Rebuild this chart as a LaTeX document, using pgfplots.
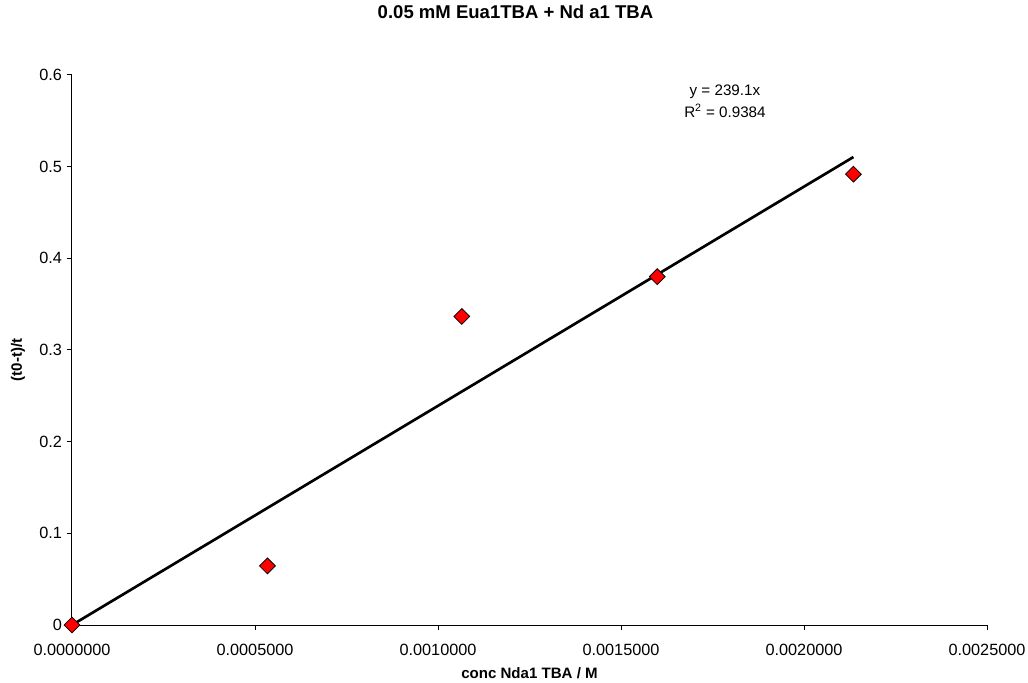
\documentclass[border=0pt]{standalone}
\usepackage{pgfplots}
\pgfplotsset{compat=1.18}
\usepackage{fontspec}
\setmainfont{Liberation Sans}
\begin{document}
\begin{tikzpicture}
\begin{axis}[
  scale only axis,
  width=686.25pt, height=412.5pt,
  xmin=0, xmax=0.0025, ymin=0, ymax=0.6,
  axis x line*=bottom, axis y line*=left,
  axis line style={line width=0.75pt},
  tick style={black, line width=0.75pt},
  tick align=outside, major tick length=4pt,
  xtick={0,0.0005,0.001,0.0015,0.002,0.0025},
  ytick={0,0.1,0.2,0.3,0.4,0.5,0.6},
  scaled x ticks=false, scaled y ticks=false,
  /pgf/number format/assume math mode=true,
  xticklabel style={/pgf/number format/.cd, fixed, fixed zerofill, precision=7, /tikz/.cd, yshift=-7pt},
  ticklabel style={font=\fontsize{12.2}{14}\selectfont},
  xlabel={\textbf{conc Nda1 TBA / M}},
  ylabel={\textbf{(t0-t)/t}},
  label style={font=\fontsize{11.3}{13}\selectfont},
  xlabel style={at={(axis description cs:0.5,-0.0873)}, anchor=center},
  ylabel style={at={(axis description cs:-0.059,0.4818)}, anchor=center, rotate=0},
  title={\textbf{0.05 mM Eua1TBA + Nd a1 TBA}},
  title style={font=\fontsize{13.9}{16}\selectfont, at={(axis description cs:0.4847,1.1)}, anchor=center},
  clip=false,
]
\addplot[black, line width=2pt] coordinates {(0,0) (0.002135,0.5105)};
\addplot[only marks, mark=square*, mark size=4.2pt,
  mark options={rotate=45, fill=red, draw=black, line width=0.6pt}]
  coordinates {
  (0,0)
  (0.000534,0.0645)
  (0.001065,0.3366)
  (0.001599,0.380)
  (0.002135,0.4918)
};
\node[font=\fontsize{11.4}{16.5}\selectfont, align=center] at (axis cs:0.001784,0.5716)
  {y = 239.1x\\R\textsuperscript{2} = 0.9384};
\end{axis}
\pgfresetboundingbox
\path (current axis.south west) ++(-54pt,-42.75pt) coordinate (bbsw);
\path (current axis.north east) ++(30.75pt,56.25pt) coordinate (bbne);
\useasboundingbox (bbsw) rectangle (bbne);
\end{tikzpicture}
\end{document}
